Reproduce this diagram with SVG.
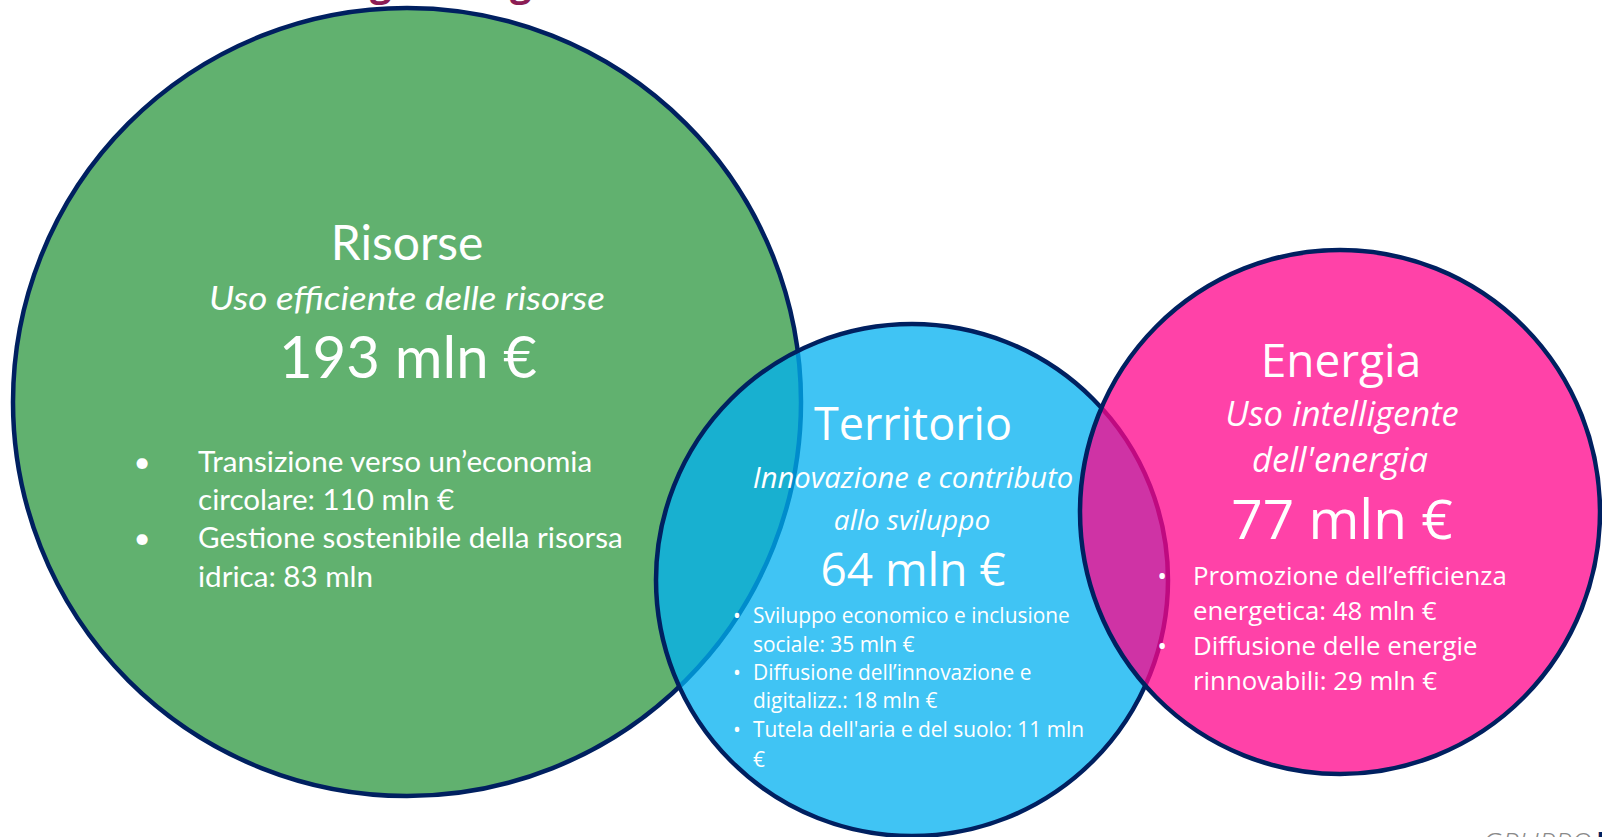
<svg xmlns="http://www.w3.org/2000/svg" width="1602" height="837" viewBox="0 0 1602 837">
<style>
.ring{stroke:#002060;stroke-width:4.5}
.w{fill:#ffffff}
.cal{font-family:Lato,"Liberation Sans",sans-serif}
.seg{font-family:"Open Sans","Noto Sans",sans-serif}
.it{font-style:italic}
.mid{text-anchor:middle}
.ttl{fill:#8C1D55;font-family:"Open Sans",sans-serif;font-weight:bold;font-size:38px}
</style>
<rect width="1602" height="837" fill="#ffffff"/>
<g id="title-fragment">
<text class="ttl" x="370" y="-4">g</text>
<text class="ttl" x="510" y="-4">g</text>
</g>
<g id="risorse">
<circle class="ring" cx="407" cy="402" r="394" fill="#61B16F"/>
<text class="w cal mid" x="407" y="260" font-size="48">Risorse</text>
<text class="w cal mid it" x="407" y="310" font-size="32" textLength="396" lengthAdjust="spacingAndGlyphs">Uso efficiente delle risorse</text>
<text class="w cal mid" x="408" y="378" font-size="58">193 mln €</text>
<g class="w cal" font-size="29.6">
<text x="142" y="472" class="mid">•</text>
<text x="198" y="472">Transizione verso un’economia</text>
<text x="198" y="510">circolare: 110 mln €</text>
<text x="142" y="548" class="mid">•</text>
<text x="198" y="548">Gestione sostenibile della risorsa</text>
<text x="198" y="587">idrica: 83 mln</text>
</g>
</g>
<g id="territorio">
<circle class="ring" cx="912" cy="580" r="256" fill="#00B0F0" fill-opacity="0.75"/>
<text class="w seg mid" x="913" y="440" font-size="45">Territorio</text>
<text class="w seg mid it" x="913" y="488" font-size="29.2">Innovazione e contributo</text>
<text class="w seg mid it" x="912" y="530" font-size="28">allo sviluppo</text>
<text class="w seg mid" x="913" y="586" font-size="46">64 mln €</text>
<g class="w seg" font-size="20.9">
<text x="737" y="623" class="mid">•</text>
<text x="753" y="623">Sviluppo economico e inclusione</text>
<text x="753" y="652">sociale: 35 mln €</text>
<text x="737" y="680" class="mid">•</text>
<text x="753" y="680">Diffusione dell’innovazione e</text>
<text x="753" y="708">digitalizz.: 18 mln €</text>
<text x="737" y="737" class="mid">•</text>
<text x="753" y="737">Tutela dell'aria e del suolo: 11 mln</text>
<text x="753" y="767">€</text>
</g>
</g>
<g id="energia">
<ellipse class="ring" cx="1340" cy="512" rx="260" ry="262" fill="#FF038B" fill-opacity="0.75"/>
<text class="w seg mid" x="1341" y="377" font-size="46">Energia</text>
<text class="w seg mid it" x="1342" y="426" font-size="34.5">Uso intelligente</text>
<text class="w seg mid it" x="1340" y="472" font-size="34.5">dell'energia</text>
<text class="w seg mid" x="1342" y="539" font-size="55">77 mln €</text>
<g class="w seg" font-size="25.8">
<text x="1162" y="585" class="mid">•</text>
<text x="1193" y="585">Promozione dell’efficienza</text>
<text x="1193" y="620">energetica: 48 mln €</text>
<text x="1162" y="655" class="mid">•</text>
<text x="1193" y="655">Diffusione delle energie</text>
<text x="1193" y="690">rinnovabili: 29 mln €</text>
</g>
</g>
<g id="logo">
<text x="1482" y="854" font-family="'Open Sans',sans-serif" font-style="italic" font-size="30" fill="#8A8A8A" font-weight="300" textLength="110" lengthAdjust="spacingAndGlyphs">GRUPPO</text>
<text x="1596" y="854" font-family="'Open Sans',sans-serif" font-weight="bold" font-size="30" fill="#002060">H</text>
</g>
<g id="connectors"/>
</svg>
